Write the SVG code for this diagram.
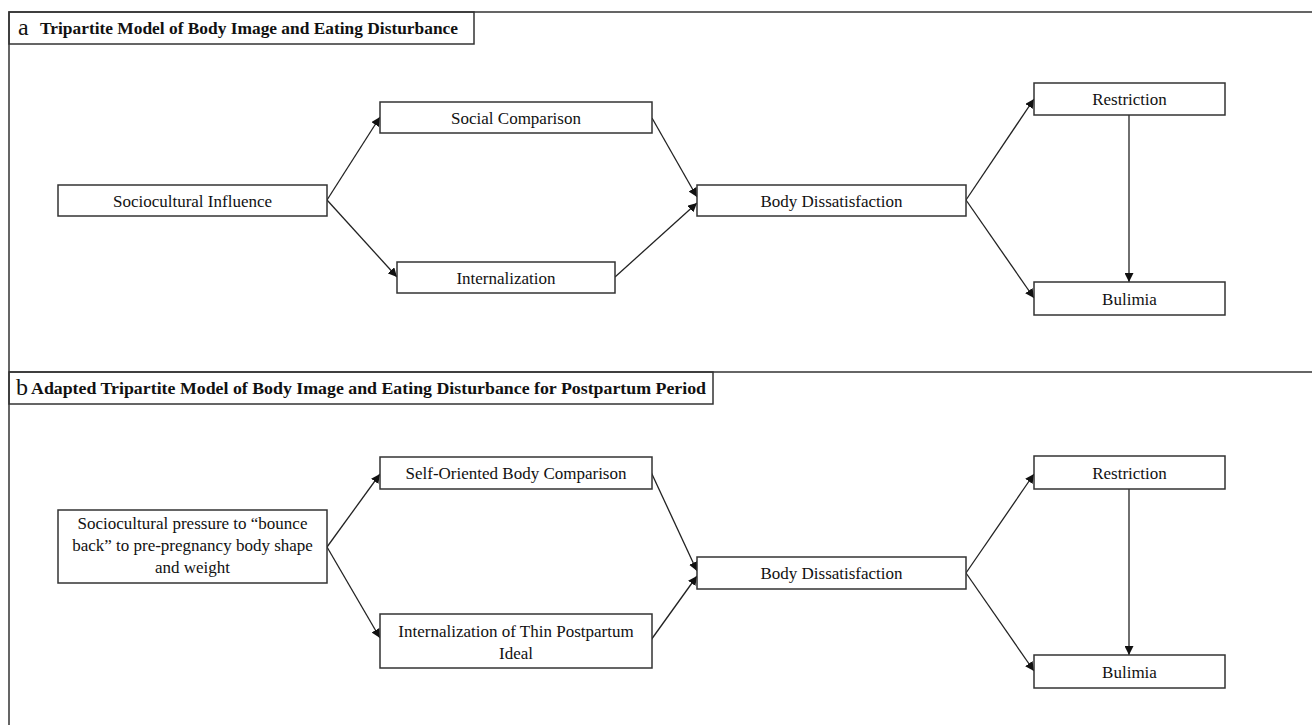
<svg xmlns="http://www.w3.org/2000/svg" width="1312" height="725" viewBox="0 0 1312 725">
<defs>
<marker id="ah" viewBox="0 0 10 10" refX="10" refY="5" markerWidth="9" markerHeight="9" markerUnits="userSpaceOnUse" orient="auto">
<path d="M0,0 L10,5 L0,10 z" fill="#111"/>
</marker>
<style>
.frame{fill:none;stroke:#333;stroke-width:1.5}
.box{fill:#fff;stroke:#333;stroke-width:1.5}
.t{font-family:"Liberation Serif","Times New Roman",serif;font-size:17px;fill:#111;text-anchor:middle}
.h{font-family:"Liberation Serif","Times New Roman",serif;font-size:16px;font-weight:bold;fill:#111}
.hl{font-family:"Liberation Serif","Times New Roman",serif;font-size:24px;fill:#111}
.c{fill:none;stroke:#222;stroke-width:1.3;marker-end:url(#ah)}
</style>
</defs>
<rect width="1312" height="725" fill="#fff"/>
<g id="frame">
<path class="frame" d="M9,725 V12 H1312"/>
<path class="frame" d="M9,372 H1312"/>
<rect class="frame" x="9" y="12" width="465" height="32"/>
<rect class="frame" x="9" y="372" width="704" height="32"/>
<text class="hl" x="18" y="35">a</text>
<text class="h" x="40" y="34" textLength="418" lengthAdjust="spacingAndGlyphs">Tripartite Model of Body Image and Eating Disturbance</text>
<text class="hl" x="16" y="395">b</text>
<text class="h" x="31" y="394" textLength="675" lengthAdjust="spacingAndGlyphs">Adapted Tripartite Model of Body Image and Eating Disturbance for Postpartum Period</text>
</g>
<g id="connectors">
<line class="c" x1="327" y1="200" x2="380" y2="117"/>
<line class="c" x1="327" y1="200" x2="397" y2="277"/>
<line class="c" x1="652" y1="118" x2="697" y2="197"/>
<line class="c" x1="615" y1="277" x2="697" y2="203"/>
<line class="c" x1="966" y1="200" x2="1034" y2="99"/>
<line class="c" x1="966" y1="200" x2="1034" y2="298"/>
<line class="c" x1="1129" y1="115" x2="1129" y2="282"/>
<line class="c" x1="327" y1="547" x2="380" y2="474"/>
<line class="c" x1="327" y1="547" x2="380" y2="638"/>
<line class="c" x1="651" y1="472" x2="697" y2="571"/>
<line class="c" x1="651" y1="640" x2="697" y2="576"/>
<line class="c" x1="966" y1="573" x2="1034" y2="474"/>
<line class="c" x1="966" y1="573" x2="1034" y2="671"/>
<line class="c" x1="1129" y1="489" x2="1129" y2="655"/>
</g>
<g id="a-socio"><rect class="box" x="58" y="185" width="269" height="31"/><text class="t" x="192.5" y="206.5">Sociocultural Influence</text></g>
<g id="a-social"><rect class="box" x="380" y="102" width="272" height="31"/><text class="t" x="516" y="123.5">Social Comparison</text></g>
<g id="a-intern"><rect class="box" x="397" y="262" width="218" height="31"/><text class="t" x="506" y="283.5">Internalization</text></g>
<g id="a-bodydis"><rect class="box" x="697" y="185" width="269" height="31"/><text class="t" x="831.5" y="206.5">Body Dissatisfaction</text></g>
<g id="a-restr"><rect class="box" x="1034" y="83" width="191" height="32"/><text class="t" x="1129.5" y="104.5">Restriction</text></g>
<g id="a-bulimia"><rect class="box" x="1034" y="282" width="191" height="33"/><text class="t" x="1129.5" y="304.5">Bulimia</text></g>
<g id="b-socio"><rect class="box" x="58" y="510" width="269" height="73"/><text class="t" x="192.5" y="529">Sociocultural pressure to “bounce</text><text class="t" x="192.5" y="551">back” to pre-pregnancy body shape</text><text class="t" x="192.5" y="573">and weight</text></g>
<g id="b-self"><rect class="box" x="380" y="457" width="272" height="32"/><text class="t" x="516" y="478.5">Self-Oriented Body Comparison</text></g>
<g id="b-intern"><rect class="box" x="380" y="614" width="272" height="54"/><text class="t" x="516" y="637">Internalization of Thin Postpartum</text><text class="t" x="516" y="659">Ideal</text></g>
<g id="b-bodydis"><rect class="box" x="697" y="557" width="269" height="32"/><text class="t" x="831.5" y="578.5">Body Dissatisfaction</text></g>
<g id="b-restr"><rect class="box" x="1034" y="456" width="191" height="33"/><text class="t" x="1129.5" y="478.5">Restriction</text></g>
<g id="b-bulimia"><rect class="box" x="1034" y="655" width="191" height="33"/><text class="t" x="1129.5" y="677.5">Bulimia</text></g>
</svg>
